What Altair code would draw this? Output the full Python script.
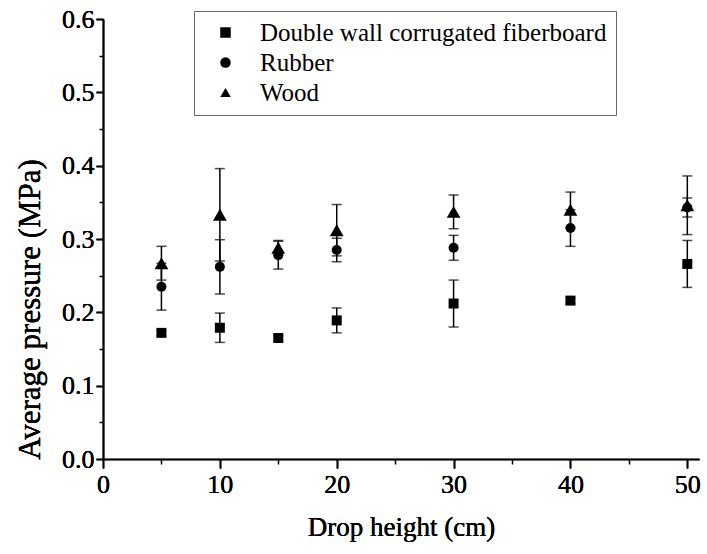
import altair as alt
import pandas as pd

drop_height = [5, 10, 15, 20, 30, 40, 50]
materials = ["Double wall corrugated fiberboard", "Rubber", "Wood"]

fiber_mean = [0.172, 0.179, 0.165, 0.189, 0.212, 0.216, 0.266]
fiber_err = [0.004, 0.020, 0.004, 0.017, 0.032, 0.004, 0.032]
rubber_mean = [0.235, 0.262, 0.278, 0.285, 0.288, 0.315, 0.343]
rubber_err = [0.032, 0.037, 0.019, 0.016, 0.017, 0.025, 0.013]
wood_mean = [0.267, 0.333, 0.288, 0.312, 0.337, 0.340, 0.346]
wood_err = [0.023, 0.063, 0.010, 0.035, 0.023, 0.024, 0.040]

x_major = [0, 10, 20, 30, 40, 50]
x_minor = [5, 15, 25, 35, 45]
y_major = [0.0, 0.1, 0.2, 0.3, 0.4, 0.5, 0.6]
y_minor = [0.05, 0.15, 0.25, 0.35, 0.45, 0.55]

rows = []
for name, means, errs in zip(materials, [fiber_mean, rubber_mean, wood_mean],
                             [fiber_err, rubber_err, wood_err]):
    for h, m, e in zip(drop_height, means, errs):
        rows.append({"height": h, "material": name, "mean": m,
                     "lo": m - e, "hi": m + e})
df = pd.DataFrame(rows)

FONT = "Liberation Serif"
xscale = alt.Scale(domain=[0, 51], nice=False, zero=False)
yscale = alt.Scale(domain=[0, 0.6], nice=False)

x_axis_major = alt.Axis(values=x_major, format="d", title="Drop height (cm)",
                        orient="bottom", tickSize=9, labelPadding=3,
                        titlePadding=17, titleFontSize=27, grid=False, labelFlush=False)
y_axis_major = alt.Axis(values=y_major, format=".1f", title="Average pressure (MPa)",
                        orient="left", tickSize=7, labelPadding=2,
                        titleFontSize=31, titleX=-73, titleY=290, titleAngle=270,
                        titleAlign="center", titleBaseline="middle",
                        grid=False, labelFlush=False)
x_axis_minor = alt.Axis(values=x_minor, orient="bottom", tickSize=5, labels=False,
                        domain=False, title=None, grid=False)
y_axis_minor = alt.Axis(values=y_minor, orient="left", tickSize=4, labels=False,
                        domain=False, title=None, grid=False)

errorbars = alt.Chart(df).mark_errorbar(
    ticks={"size": 10, "thickness": 1.5, "color": "black"},
    rule={"strokeWidth": 1.5, "color": "black"},
    color="black",
).encode(
    x=alt.X("height:Q", scale=xscale, axis=x_axis_major),
    y=alt.Y("lo:Q", scale=yscale, axis=y_axis_major),
    y2="hi:Q",
)

points = alt.Chart(df).mark_point(filled=True, opacity=1, color="black", size=100).encode(
    x=alt.X("height:Q", scale=xscale, axis=x_axis_major),
    y=alt.Y("mean:Q", scale=yscale, axis=y_axis_major),
    shape=alt.Shape("material:N",
                    scale=alt.Scale(domain=materials,
                                    range=["square", "circle", "triangle-up"]),
                    legend=alt.Legend(title=None, orient="none", legendX=91, legendY=-8,
                                      strokeColor="#666666", fillColor="white",
                                      padding=9, symbolOffset=10, labelOffset=22,
                                      labelFont=FONT, labelFontSize=25, labelColor="black",
                                      labelLimit=600, symbolSize=110,
                                      symbolFillColor="black", symbolStrokeColor="black",
                                      symbolStrokeWidth=0, rowPadding=4)),
)

wood_big = alt.Chart(df).transform_filter(
    alt.datum.material == "Wood"
).mark_point(filled=True, opacity=1, color="black", size=190, shape="triangle-up").encode(
    x=alt.X("height:Q", scale=xscale, axis=x_axis_major),
    y=alt.Y("mean:Q", scale=yscale, axis=y_axis_major),
)

minor = alt.Chart(df).mark_point(opacity=0).encode(
    x=alt.X("height:Q", scale=xscale, axis=x_axis_minor),
    y=alt.Y("mean:Q", scale=yscale, axis=y_axis_minor),
)

chart = alt.layer(errorbars, points, wood_big, minor).resolve_axis(
    x="independent", y="independent"
).properties(
    width=596, height=440,
    padding={"left": 103, "top": 19, "right": 8, "bottom": 95},
    autosize="none",
    background="white",
).configure_view(stroke=None).configure_axis(
    domainColor="black", domainWidth=1.6, tickColor="black", tickWidth=1.5,
    labelFont=FONT, labelFontSize=26, labelColor="black",
    titleFont=FONT, titleFontWeight="normal", titleColor="black",
    labelOverlap=False,
)

chart.save("out.html", embed_options={"renderer": "svg", "actions": False})
